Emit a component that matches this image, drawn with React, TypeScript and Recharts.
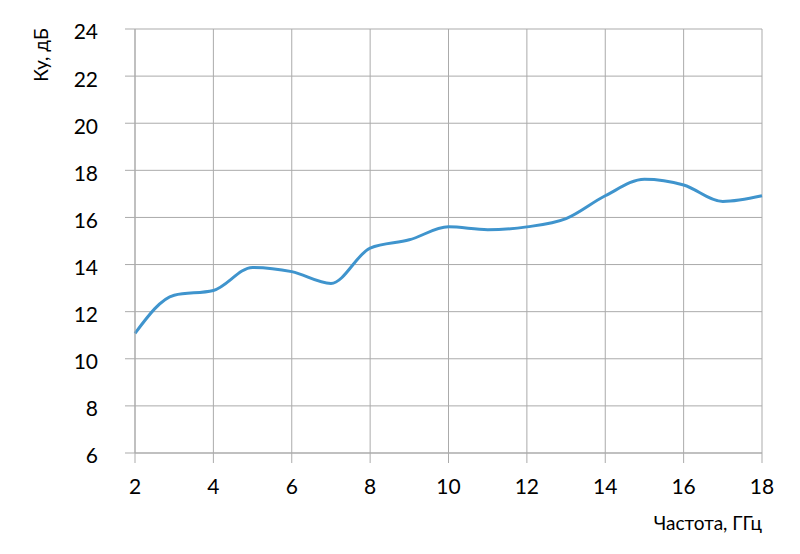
import { useEffect } from "react";
import {
  LineChart,
  Line,
  XAxis,
  YAxis,
  CartesianGrid,
  Label,
} from "recharts";

// частота, ГГц
const freq = [2, 3, 4, 5, 6, 7, 8, 9, 10, 11, 12, 13, 14, 15, 16, 17, 18];
// коэффициент усиления, дБ
const gain = [
  11.08, 12.7, 12.9, 13.88, 13.7, 13.2, 14.7, 15.05, 15.6, 15.48, 15.6, 15.95,
  16.92, 17.62, 17.38, 16.68, 16.92,
];

const xTicks = [2, 4, 6, 8, 10, 12, 14, 16, 18];
const yTicks = [6, 8, 10, 12, 14, 16, 18, 20, 22, 24];

const data = freq.map((f, i) => ({ f, ku: gain[i] }));

const FONT = "Lato, 'Open Sans', sans-serif";
const GRID = "#ababab";

export default function App() {
  useEffect(() => {
    document.body.style.margin = "0";
  }, []);

  return (
    <div style={{ width: 800, height: 554, background: "#fff" }}>
      <LineChart
        width={800}
        height={554}
        data={data}
        margin={{ top: 29, right: 38, left: 0, bottom: 41 }}
      >
        <CartesianGrid stroke={GRID} strokeWidth={1} />
        <XAxis
          dataKey="f"
          type="number"
          domain={[2, 18]}
          ticks={xTicks}
          height={60}
          tickSize={10}
          tickMargin={16}
          stroke={GRID}
          tick={{ fill: "#000", fontSize: 21, fontFamily: FONT }}
        >
          <Label
            content={({ viewBox }: any) => (
              <text
                x={viewBox.x + viewBox.width}
                y={530}
                textAnchor="end"
                fontSize={19}
                fontFamily={FONT}
                fill="#000"
              >
                Частота, ГГц
              </text>
            )}
          />
        </XAxis>
        <YAxis
          type="number"
          domain={[6, 24]}
          ticks={yTicks}
          width={135}
          tickSize={10}
          tickMargin={27}
          stroke={GRID}
          tick={{ fill: "#000", fontSize: 21, fontFamily: FONT, dy: 3 }}
        >
          <Label
            content={({ viewBox }: any) => (
              <text
                x={40}
                y={viewBox.y + 26}
                textAnchor="middle"
                dominantBaseline="central"
                transform={`rotate(-90, 40, ${viewBox.y + 26})`}
                fontSize={19}
                fontFamily={FONT}
                fill="#000"
              >
                Ку, дБ
              </text>
            )}
          />
        </YAxis>
        <Line
          type="monotone"
          dataKey="ku"
          stroke="#3f94cd"
          strokeWidth={3}
          dot={false}
          activeDot={false}
          isAnimationActive={false}
        />
      </LineChart>
    </div>
  );
}
